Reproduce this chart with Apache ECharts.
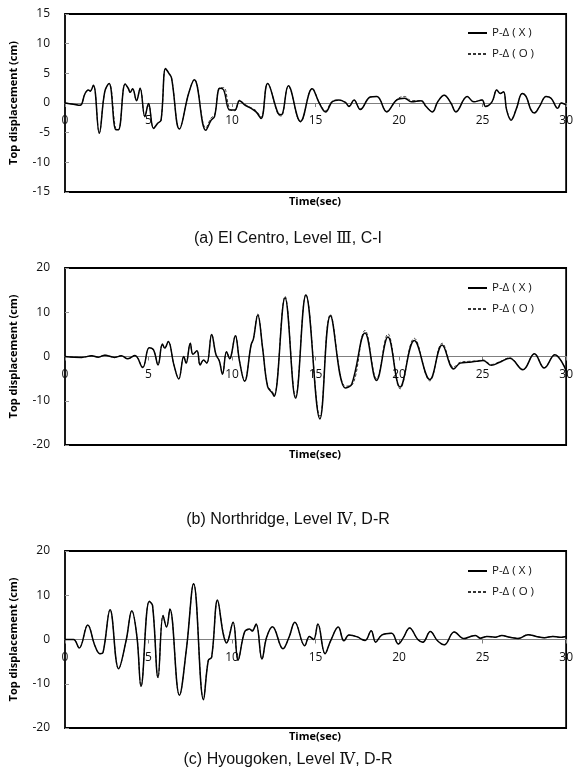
<!DOCTYPE html>
<html>
<head>
<meta charset="utf-8">
<script src="https://cdn.jsdelivr.net/npm/echarts@6/dist/echarts.min.js"></script>
<style>
  html, body { margin: 0; padding: 0; background: #fff; }
  #chart { width: 576px; height: 776px; }
</style>
</head>
<body>
<div id="chart"></div>
<script>
// Roof (top) displacement histories, with and without P-Delta effect

// (a) El Centro, Level III, C-I
const elCentroTime = [
  0, 0.5, 0.9, 1.2, 1.4, 1.5, 1.7, 2.05, 2.38, 2.64,
  3.05, 3.2, 3.6, 3.8, 3.9, 4.05, 4.28, 4.5, 4.78, 5.0,
  5.3, 5.55, 5.75, 6.02, 6.22, 6.38, 6.85, 7.4, 7.74, 8.43,
  8.75, 8.95, 9.27, 9.5, 9.86, 10.16, 10.45, 10.75, 11.14, 11.44,
  11.74, 12.13, 12.75, 12.95, 13.37, 14.1, 14.8, 15.22, 15.6, 16.0,
  16.4, 16.8, 17.0, 17.3, 17.68, 18.27, 18.67, 19.26, 19.85, 20.33,
  20.73, 21.32, 21.62, 22.0, 22.31, 22.7, 23.1, 23.4, 24.08, 24.47,
  24.97, 25.17, 25.56, 25.85, 26.05, 26.25, 26.44, 26.7, 27.03, 27.37,
  27.6, 27.9, 28.1, 28.4, 28.8, 29.1, 29.5, 29.7, 30.0
];
const elCentroX = [
  0, -0.2, -0.4, 1.6, 2.2, 2.0, 3.0, -5.1, 1.9, 3.3,
  -4.5, -4.5, 3.2, 2.4, 1.8, 2.4, 0.4, 2.5, -2.3, -0.1,
  -4.3, -3.4, -2.9, 5.8, 5.0, 4.2, -4.4, 1.6, 3.9, -4.6,
  -2.9, -2.3, 2.5, 2.2, -1.2, -1.2, 0.4, -0.3, -0.9, -1.5,
  -2.6, 3.3, -1.7, -2.0, 2.9, -3.1, 2.4, 0.0, -1.5, 0.2,
  0.5, 0.05, -0.6, 0.5, -1.1, 1.0, 1.1, -1.5, 0.5, 0.8,
  0.2, 0.4, -0.6, -1.5, 0.2, 1.3, 0.0, -1.5, 1.1, 0.2,
  0.5, -0.6, 0.2, 2.2, 1.6, 1.9, -1.2, -2.9, -0.9, 1.6,
  1.1, -1.2, -1.7, -0.6, 1.1, 0.8, -0.9, 0.0, -0.3
];
const elCentroO = [
  0, -0.2, -0.4, 1.6, 2.2, 2.0, 3.0, -5.0, 1.9, 3.3,
  -4.4, -4.5, 3.2, 2.4, 1.8, 2.4, 0.4, 2.5, -2.3, -0.1,
  -4.2, -3.4, -2.9, 5.8, 5.0, 4.2, -4.3, 1.6, 4.0, -4.2,
  -2.5, -2.1, 2.6, 2.6, -1.0, -1.3, 0.5, -0.2, -0.8, -1.3,
  -2.4, 3.3, -1.9, -2.2, 2.8, -3.2, 2.5, 0.1, -1.3, 0.3,
  0.5, 0.1, -0.5, 0.5, -1.0, 1.0, 1.1, -1.4, 0.6, 1.1,
  0.4, 0.4, -0.6, -1.4, 0.2, 1.3, 0.0, -1.4, 1.1, 0.2,
  0.5, -0.5, 0.2, 2.2, 1.6, 1.9, -1.1, -2.7, -0.9, 1.6,
  1.1, -1.1, -1.6, -0.6, 1.1, 0.8, -0.9, 0.0, -0.3
];

// (b) Northridge, Level IV, D-R
const northridgeTime = [
  0, 1.0, 1.6, 2.0, 2.38, 2.97, 3.37, 3.76, 4.19, 4.65,
  5.04, 5.3, 5.57, 5.83, 5.97, 6.18, 6.52, 6.81, 7.11, 7.25,
  7.5, 7.66, 7.9, 8.09, 8.29, 8.49, 8.78, 9.04, 9.24, 9.43,
  9.67, 9.87, 9.96, 10.2, 10.45, 10.75, 11.14, 11.28, 11.54, 11.83,
  12.13, 12.42, 12.52, 13.17, 13.8, 14.42, 15.26, 15.89, 16.78, 17.17,
  17.96, 18.65, 19.33, 20.06, 20.91, 21.84, 22.58, 23.27, 23.66, 24.15,
  24.64, 25.03, 25.53, 26.02, 26.62, 27.41, 28.1, 28.69, 29.32, 30.0
];
const northridgeX = [
  0, -0.2, 0.15, -0.15, 0.3, -0.2, 0.15, -0.5, 0.2, -2.5,
  2.0, 1.5, -1.9, 2.8, 1.9, 3.4, -1.9, -5.1, 0.0, -1.5,
  3.0, 0.5, 1.3, -1.9, -0.8, -1.5, 5.0, 0.4, -1.0, -4.0,
  1.1, -0.5, 0.4, 4.7, -1.1, -5.6, 2.6, 4.0, 9.4, 1.9,
  -6.8, -8.3, -9.0, 13.3, -9.4, 13.9, -14.1, 9.2, -7.1, -6.2,
  5.3, -5.4, 4.4, -6.9, 3.6, -5.2, 2.6, -2.8, -1.5, -1.3,
  -1.1, -0.9, -2.0, -1.3, -0.4, -3.0, 0.6, -2.6, 0.4, -3.2
];
const northridgeO = [
  0, -0.2, 0.15, -0.15, 0.3, -0.2, 0.15, -0.5, 0.2, -2.4,
  2.0, 1.5, -1.8, 2.8, 1.9, 3.4, -1.9, -5.0, 0.0, -1.5,
  3.0, 0.5, 1.3, -1.9, -0.8, -1.5, 5.0, 0.4, -1.0, -3.9,
  1.1, -0.5, 0.4, 4.8, -1.1, -5.5, 2.6, 4.0, 9.6, 1.9,
  -6.6, -8.0, -8.8, 13.6, -9.0, 14.0, -13.5, 9.5, -6.7, -6.5,
  5.9, -5.0, 5.1, -7.3, 4.1, -5.5, 3.0, -2.4, -1.3, -1.1,
  -1.0, -0.8, -1.8, -1.2, -0.3, -2.9, 0.6, -2.5, 0.4, -3.1
];

// (c) Hyougoken, Level IV, D-R
const hyougokenTime = [
  0, 0.51, 0.85, 1.36, 1.79, 2.09, 2.28, 2.7, 3.21, 3.66,
  4.0, 4.31, 4.55, 5.04, 5.24, 5.57, 5.87, 6.08, 6.28, 6.85,
  7.27, 7.7, 8.29, 8.58, 8.78, 9.13, 9.47, 9.67, 10.06, 10.36,
  10.75, 11.05, 11.2, 11.44, 11.79, 12.07, 12.42, 13.05, 13.41, 13.76,
  14.35, 14.63, 14.88, 15.14, 15.57, 15.9, 16.36, 16.7, 17.0, 17.5,
  17.78, 17.97, 18.33, 18.6, 18.96, 19.55, 19.95, 20.24, 20.63, 21.12,
  21.42, 21.87, 22.3, 22.7, 23.3, 23.88, 24.28, 24.57, 24.87, 25.26,
  25.75, 26.15, 26.63, 27.13, 27.72, 28.21, 28.7, 29.2, 29.59, 30.0
];
const hyougokenX = [
  0, 0, -1.9, 3.3, -1.4, -3.2, -2.9, 6.7, -6.6, -0.2,
  6.5, 0.5, -10.6, 8.6, 7.7, -8.6, 5.4, 2.8, 6.9, -12.6,
  -2.1, 12.6, -13.6, -4.7, -4.0, 8.9, 1.3, -0.8, 3.9, -4.7,
  1.7, 2.4, 1.9, 3.5, -4.4, 0.5, 2.9, -2.1, 0.5, 3.9,
  -1.4, 0.7, 0, 3.5, -3.2, -0.3, 2.8, -0.3, 1.0, 0.6,
  0, -0.2, 2.0, -0.6, 1.0, 1.4, -1.0, 0.3, 2.6, 0,
  -0.6, 1.8, -0.3, -1.2, 1.7, 0.2, 0.7, 0.9, 0.3, 0.7,
  0.5, 0.9, 0.5, 0.2, 1.1, 0.7, 0.4, 0.7, 0.5, 0.7
];
const hyougokenO = [
  0, 0, -1.9, 3.3, -1.4, -3.2, -2.9, 6.7, -6.6, -0.2,
  6.5, 0.5, -10.5, 8.7, 7.7, -8.6, 5.4, 2.8, 6.9, -12.6,
  -2.1, 12.6, -13.5, -4.7, -4.0, 8.6, 1.6, -0.6, 3.9, -4.6,
  1.7, 2.2, 2.1, 3.4, -4.4, 0.5, 2.9, -2.1, 0.5, 3.9,
  -1.4, 0.7, 0, 3.5, -3.2, -0.3, 2.8, -0.3, 1.0, 0.6,
  0, -0.2, 2.0, -0.6, 1.0, 1.4, -1.0, 0.3, 2.6, 0,
  -0.6, 1.8, -0.3, -1.2, 1.7, 0.2, 0.7, 0.9, 0.3, 0.7,
  0.5, 0.9, 0.5, 0.3, 1.1, 0.7, 0.4, 0.7, 0.5, 0.7
];

const seriesNames = ['P-Δ ( X )', 'P-Δ ( O )'];
// the seismic level numeral is set in a serif face via rich text
const captions = [
  '(a) El Centro, Level {n|Ⅲ}, C-I',
  '(b) Northridge, Level {n|Ⅳ}, D-R',
  '(c) Hyougoken, Level {n|Ⅳ}, D-R'
];
const yRanges = [[-15, 15, 5], [-20, 20, 10], [-20, 20, 10]];
const timeRange = [0, 30, 5];
const xTitle = 'Time(sec)';
const yTitle = 'Top displacement (cm)';

const panels = [
  { time: elCentroTime, x: elCentroX, o: elCentroO },
  { time: northridgeTime, x: northridgeX, o: northridgeO },
  { time: hyougokenTime, x: hyougokenX, o: hyougokenO }
];

// layout of each panel: plot box, legend, caption, x title
const layout = [
  { top: 14, height: 178, legendTop: 27, captionY: 236, xTitleY: 202 },
  { top: 268, height: 177, legendTop: 282, captionY: 517, xTitleY: 455 },
  { top: 551, height: 177, legendTop: 565, captionY: 757, xTitleY: 737 }
];

const uiFont = '"Open Sans", "DejaVu Sans", sans-serif';
const captionFont = '"Liberation Sans", Arial, sans-serif';
const pair = (t, v) => t.map((tt, i) => [tt, v[i]]);

const grids = [], xAxes = [], yAxes = [], series = [], legends = [], titles = [], graphics = [];

panels.forEach((p, i) => {
  const L = layout[i];
  const [yMin, yMax, yStep] = yRanges[i];
  // the time axis sits on the zero line of the displacement scale
  const zeroOffset = -L.height * (0 - yMin) / (yMax - yMin);
  grids.push({
    left: 61, top: L.top, width: 508, height: L.height,
    show: true, borderColor: '#000', borderWidth: 1.8, backgroundColor: 'transparent'
  });
  xAxes.push({
    type: 'value', gridIndex: i, position: 'bottom', offset: zeroOffset,
    min: timeRange[0], max: timeRange[1], interval: timeRange[2],
    axisLine: { show: true, onZero: false, lineStyle: { color: '#808080', width: 1 } },
    axisTick: { show: true, length: 4, lineStyle: { color: '#808080' } },
    axisLabel: { margin: 12, fontSize: 12, color: '#111', fontFamily: uiFont },
    splitLine: { show: false }
  });
  yAxes.push({
    type: 'value', gridIndex: i,
    min: yMin, max: yMax, interval: yStep,
    name: yTitle, nameLocation: 'middle', nameGap: 46,
    nameTextStyle: { fontSize: 11, fontWeight: 'bold', color: '#000', fontFamily: uiFont },
    axisLine: { show: false },
    axisTick: { show: true, inside: true, length: 4, lineStyle: { color: '#999' } },
    axisLabel: { margin: 15, fontSize: 12, color: '#111', fontFamily: uiFont },
    splitLine: { show: false }
  });
  series.push({
    name: seriesNames[1], type: 'line', xAxisIndex: i, yAxisIndex: i,
    data: pair(p.time, p.o), smooth: 0.4, symbol: 'none',
    itemStyle: { color: '#333' },
    lineStyle: { color: '#333', width: 1, type: [3, 2] }, z: 2
  });
  series.push({
    name: seriesNames[0], type: 'line', xAxisIndex: i, yAxisIndex: i,
    data: pair(p.time, p.x), smooth: 0.4, symbol: 'none',
    itemStyle: { color: '#000' },
    lineStyle: { color: '#000', width: 1.5 }, z: 3
  });
  legends.push({
    data: [seriesNames[0], seriesNames[1]],
    orient: 'vertical', left: 467, top: L.legendTop, padding: 0,
    itemWidth: 19, itemHeight: 10, itemGap: 9,
    itemStyle: { opacity: 0, borderWidth: 0 },
    textStyle: { fontSize: 11.5, color: '#111', fontFamily: uiFont, lineHeight: 12 }
  });
  titles.push({
    text: captions[i], left: 'center', top: L.captionY - 10,
    textStyle: {
      fontSize: 16, fontWeight: 'normal', color: '#111', fontFamily: captionFont,
      rich: { n: { fontSize: 16, color: '#111', fontFamily: '"DejaVu Serif", "Liberation Serif", serif' } }
    }
  });
  graphics.push({
    type: 'text', x: 315, y: L.xTitleY,
    style: { text: xTitle, align: 'center', verticalAlign: 'middle',
             font: 'bold 11px ' + uiFont, fill: '#000' }
  });
});

const chart = echarts.init(document.getElementById('chart'), null, { renderer: 'canvas' });
chart.setOption({
  animation: false,
  backgroundColor: '#fff',
  title: titles,
  legend: legends,
  grid: grids,
  xAxis: xAxes,
  yAxis: yAxes,
  series: series,
  graphic: graphics
});
</script>
</body>
</html>
